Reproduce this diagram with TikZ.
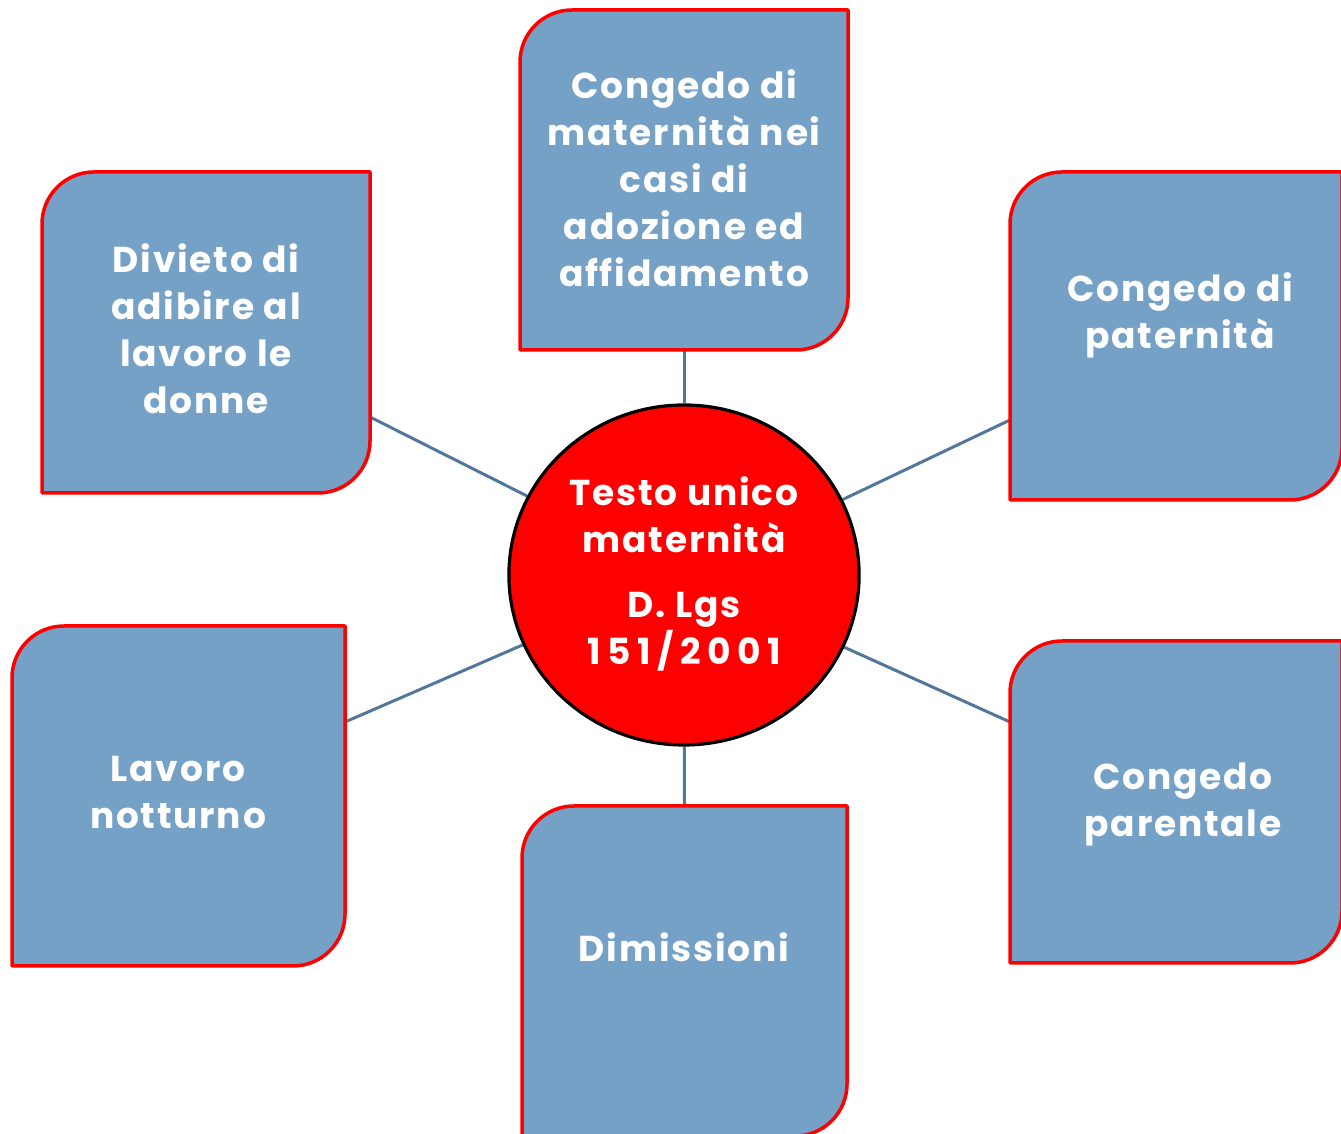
\documentclass[tikz,border=0pt]{standalone}
\usepackage{fontspec}
\setmainfont{Poppins}[LetterSpace=5]
\usetikzlibrary{backgrounds,calc}
\definecolor{boxblue}{HTML}{75A1C7}
\definecolor{linkblue}{HTML}{52779A}
\definecolor{hubred}{HTML}{FF0000}
\tikzset{
  area/.style={inner sep=0pt, outer sep=0pt},
  boxfill/.style={fill=boxblue, draw=hubred, line width=3.5pt, line join=round},
  boxtext/.style={text=white, align=center, font=\fontsize{36}{47}\selectfont\bfseries, inner sep=0pt},
  link/.style={draw=linkblue, line width=3pt},
}
\newcommand\blobshape[1]{%
  \filldraw[boxfill] (#1.south west) -- ([yshift=-52pt]#1.north west)
    arc[start angle=180,end angle=90,radius=52pt] -- (#1.north east)
    -- ([yshift=52pt]#1.south east)
    arc[start angle=0,end angle=-90,radius=52pt] -- cycle;}
\begin{document}
\begin{tikzpicture}[x=1pt,y=1pt]
\useasboundingbox (0,0) rectangle (1341,1134);
% box areas
\node[area, minimum width=328pt, minimum height=340pt] (b1) at (684,954) {};
\node[area, minimum width=328pt, minimum height=321pt] (b2) at (206,801.5) {};
\node[area, minimum width=332pt, minimum height=328pt] (b3) at (1176,798) {};
\node[area, minimum width=333pt, minimum height=340pt] (b4) at (178.5,338) {};
\node[area, minimum width=325pt, minimum height=330pt] (b5) at (684.5,163) {};
\node[area, minimum width=332pt, minimum height=322pt] (b6) at (1176,332) {};
% hub
\node[draw=black, fill=hubred, line width=3.2pt, circle, inner sep=0pt, minimum size=340pt, xscale=1.03] (hub) at (684,559) {};
% connector anchors
\coordinate (c1) at ($(b1.south)$);
\coordinate (c2) at ($(b2.east)+(0,-84.5)$);
\coordinate (c3) at ($(b3.west)+(0,-84)$);
\coordinate (c4) at ($(b4.east)+(0,74)$);
\coordinate (c5) at ($(b5.north)$);
\coordinate (c6) at ($(b6.west)+(0,80)$);
\begin{scope}[on background layer]
  \foreach \c in {c1,c2,c3,c4,c5,c6} \draw[link] (\c) -- (hub);
\end{scope}
\blobshape{b1}\blobshape{b2}\blobshape{b3}\blobshape{b4}\blobshape{b5}\blobshape{b6}
% texts
\node[boxtext] (t1) at (684,956) {Congedo di\\maternità nei\\casi di\\adozione ed\\affidamento};
\node[boxtext] (t2) at (206,805) {Divieto di\\adibire al\\lavoro le\\donne};
\node[boxtext] (t3) at (1180,819) {Congedo di\\paternità};
\node[boxtext] (t4) at (178,341) {Lavoro\\notturno};
\node[boxtext] (t5) at (684,187) {Dimissioni};
\node[boxtext] (t6) at (1183,330) {Congedo\\parentale};
\node[boxtext] (th) at (684,560) {Testo unico\\maternità\\[18pt]D. Lgs\\{\addfontfeature{LetterSpace=18}151/2001}};
\end{tikzpicture}
\end{document}
